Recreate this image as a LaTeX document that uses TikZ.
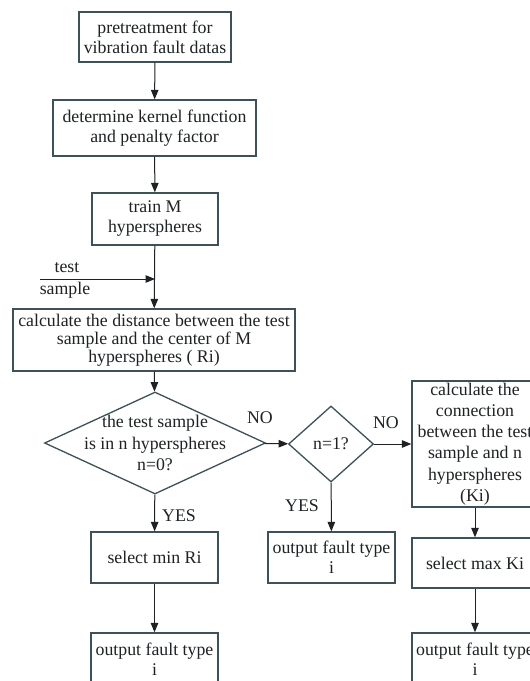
\documentclass[tikz,border=0pt]{standalone}
\usepackage{fontspec}
\setmainfont{Liberation Serif}
\usepackage{tikz}
\usetikzlibrary{shapes.geometric}
\usetikzlibrary{arrows.meta}

\definecolor{boxline}{RGB}{62,80,88}
\definecolor{inkgray}{RGB}{30,34,36}

\tikzset{
	procbox/.style={rectangle,draw=boxline,line width=1.3pt,align=center,inner sep=0pt,
		text=inkgray,font=\fontsize{17.8}{20}\selectfont},
	decision/.style={diamond,draw=boxline,line width=1.3pt,inner sep=0pt},
	flowtext/.style={align=center,inner sep=0pt,text=inkgray,font=\fontsize{17.8}{20}\selectfont},
	flow/.style={draw=inkgray,line width=1pt,-{Triangle[length=9.5pt,width=7.5pt]}}
}

\begin{document}
\begin{tikzpicture}[x=1pt,y=-1pt]
	\fill[white] (0,0) rectangle (530,681);
	\useasboundingbox (0,0) rectangle (530,681);
	\clip (0,0) rectangle (530,681);

	% main column
	\node [procbox,minimum width=152pt,minimum height=50pt] (pre) at (155,37) {pretreatment for\\vibration fault datas};
	\node [procbox,minimum width=203pt,minimum height=56pt] (kernel) at (154.5,128) {determine kernel function\\and penalty factor};
	\node [procbox,minimum width=126pt,minimum height=52pt] (train) at (155,219) {train M\\hyperspheres};
	\node [procbox,minimum width=282pt,minimum height=62pt,font=\fontsize{17.8}{17.8}\selectfont] (dist) at (154,340)
		{calculate the distance between the test\\sample and the center of M\\hyperspheres ( Ri)};

	\coordinate (join) at (155,279);
	\coordinate (testin) at (40,279);
	\node [flowtext] (testlbl) at (67,268) {test};
	\node [flowtext] (samplelbl) at (65,290) {sample};

	\node [decision,minimum width=221pt,minimum height=102pt] (dec1) at (155,443) {};
	\node [flowtext,font=\fontsize{17.8}{21.5}\selectfont] (dec1txt) at (155,443) {the test sample\\is in n hyperspheres\\n=0?};
	\node [decision,minimum width=85pt,minimum height=76pt] (dec2) at (331,444) {};
	\node [flowtext] (dec2txt) at (331,444) {n=1?};

	\node [procbox,minimum width=126pt,minimum height=126pt,font=\fontsize{17.8}{21.2}\selectfont] (conn) at (475,444)
		{calculate the\\connection\\between the test\\sample and n\\hyperspheres\\(Ki)};

	\node [procbox,minimum width=127pt,minimum height=51pt] (minri) at (154.5,557.5) {select min Ri};
	\node [procbox,minimum width=127pt,minimum height=51pt] (out2) at (331.5,557.5) {output fault type\\i};
	\node [procbox,minimum width=126pt,minimum height=50pt] (maxki) at (475,563) {select max Ki};

	\node [procbox,minimum width=127pt,minimum height=52pt] (out1) at (154.5,659) {output fault type\\i};
	\node [procbox,minimum width=126pt,minimum height=52pt] (out3) at (475,659) {output fault type\\i};

	\node [flowtext] (no1) at (260,418) {NO};
	\node [flowtext] (no2) at (386,423) {NO};
	\node [flowtext] (yes1) at (179,516) {YES};
	\node [flowtext] (yes2) at (302,506) {YES};

	% connectors
	\draw [flow] (pre) -- (kernel);
	\draw [flow] (kernel) -- (train);
	\draw [flow] (train) -- (dist);
	\draw [flow] (testin) -- (join);
	\draw [flow] (dist) -- (dec1);
	\draw [flow] (dec1) -- (dec2);
	\draw [flow] (dec2) -- (conn);
	\draw [flow] (dec1) -- (minri);
	\draw [flow] (dec2) -- (out2);
	\draw [flow] (conn) -- (maxki);
	\draw [flow] (minri) -- (out1);
	\draw [flow] (maxki) -- (out3);
\end{tikzpicture}
\end{document}
